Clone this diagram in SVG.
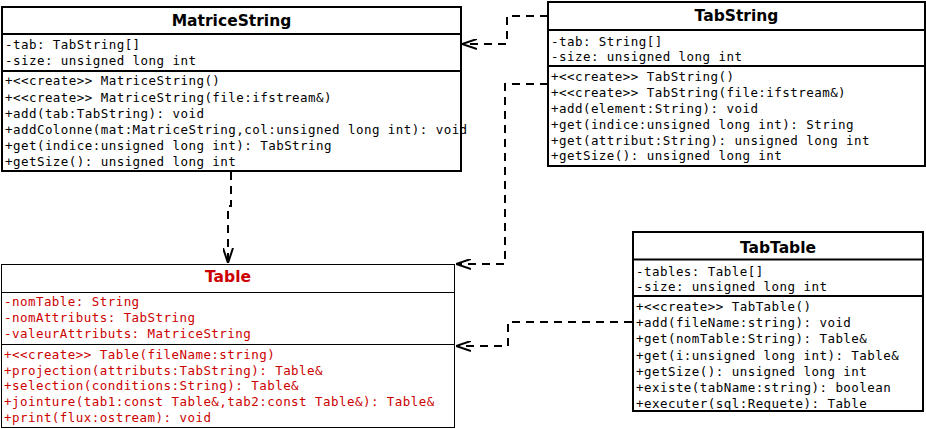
<svg xmlns="http://www.w3.org/2000/svg" width="926" height="429" viewBox="0 0 926 429">
  <style>
    .box { fill: #ffffff; stroke: #000000; stroke-width: 2; }
    .thin { fill: #ffffff; stroke: #000000; stroke-width: 1; }
    .div { stroke: #000000; stroke-width: 2; }
    .divthin { stroke: #000000; stroke-width: 1; }
    .title { font-family: "DejaVu Sans", sans-serif; font-weight: bold; font-size: 15.5px; text-anchor: middle; fill: #000000; }
    .mono { font-family: "DejaVu Sans Mono", monospace; font-size: 12.5px; letter-spacing: 0.45px; fill: #000000; }
    .red { fill: #cc0000; }
    .edge { fill: none; stroke: #000000; stroke-width: 2; stroke-dasharray: 8 6; }
  </style>
  <defs>
    <marker id="open" viewBox="0 0 15 11" refX="15" refY="5.5" markerWidth="15" markerHeight="11" markerUnits="userSpaceOnUse" orient="auto">
      <path d="M0,0.5 L15,5.5 L0,10.5" fill="none" stroke="#000000" stroke-width="2"/>
    </marker>
  </defs>

  <!-- dependency connectors -->
  <g id="connectors">
    <path class="edge" d="M548,16 H507 V44 H462" marker-end="url(#open)"/>
    <path class="edge" d="M548,84 H505 V264 H456" marker-end="url(#open)"/>
    <path class="edge" d="M231,172 V206 H228 V263" marker-end="url(#open)"/>
    <path class="edge" d="M632,322 H508 V346 H456" marker-end="url(#open)"/>
  </g>

  <!-- MatriceString -->
  <g id="MatriceString">
    <rect class="box" x="2" y="7" width="459" height="164"/>
    <line class="div" x1="2" y1="34" x2="461" y2="34"/>
    <line class="div" x1="2" y1="71" x2="461" y2="71"/>
    <text class="title" x="231.5" y="26">MatriceString</text>
    <text class="mono" x="5" y="48.5">-tab: TabString[]</text>
    <text class="mono" x="5" y="65">-size: unsigned long int</text>
    <text class="mono" x="5" y="84.8">+&lt;&lt;create&gt;&gt; MatriceString()</text>
    <text class="mono" x="5" y="101.5">+&lt;&lt;create&gt;&gt; MatriceString(file:ifstream&amp;)</text>
    <text class="mono" x="5" y="117.8">+add(tab:TabString): void</text>
    <text class="mono" x="5" y="134.2">+addColonne(mat:MatriceString,col:unsigned long int): void</text>
    <text class="mono" x="5" y="150.4">+get(indice:unsigned long int): TabString</text>
    <text class="mono" x="5" y="166.2">+getSize(): unsigned long int</text>
  </g>

  <!-- TabString -->
  <g id="TabString">
    <rect class="box" x="548" y="2" width="377" height="164"/>
    <line class="div" x1="548" y1="30" x2="925" y2="30"/>
    <line class="div" x1="548" y1="66" x2="925" y2="66"/>
    <text class="title" x="736.5" y="21">TabString</text>
    <text class="mono" x="551" y="45.5">-tab: String[]</text>
    <text class="mono" x="551" y="60.5">-size: unsigned long int</text>
    <text class="mono" x="551" y="80.5">+&lt;&lt;create&gt;&gt; TabString()</text>
    <text class="mono" x="551" y="96.5">+&lt;&lt;create&gt;&gt; TabString(file:ifstream&amp;)</text>
    <text class="mono" x="551" y="112.5">+add(element:String): void</text>
    <text class="mono" x="551" y="128.5">+get(indice:unsigned long int): String</text>
    <text class="mono" x="551" y="144.5">+get(attribut:String): unsigned long int</text>
    <text class="mono" x="551" y="160">+getSize(): unsigned long int</text>
  </g>

  <!-- Table -->
  <g id="Table">
    <rect class="thin" x="1.5" y="264.5" width="453" height="163"/>
    <line class="divthin" x1="1.5" y1="292.5" x2="454.5" y2="292.5"/>
    <line class="divthin" x1="1.5" y1="344.5" x2="454.5" y2="344.5"/>
    <text class="title red" x="228" y="282">Table</text>
    <text class="mono red" x="4" y="306">-nomTable: String</text>
    <text class="mono red" x="4" y="322">-nomAttributs: TabString</text>
    <text class="mono red" x="4" y="338">-valeurAttributs: MatriceString</text>
    <text class="mono red" x="4" y="358.5">+&lt;&lt;create&gt;&gt; Table(fileName:string)</text>
    <text class="mono red" x="4" y="374.5">+projection(attributs:TabString): Table&amp;</text>
    <text class="mono red" x="4" y="390.3">+selection(conditions:String): Table&amp;</text>
    <text class="mono red" x="4" y="406.2">+jointure(tab1:const Table&amp;,tab2:const Table&amp;): Table&amp;</text>
    <text class="mono red" x="4" y="422.2">+print(flux:ostream): void</text>
  </g>

  <!-- TabTable -->
  <g id="TabTable">
    <rect class="box" x="633" y="232" width="290" height="179"/>
    <line class="div" x1="633" y1="259.5" x2="923" y2="259.5"/>
    <line class="div" x1="633" y1="296" x2="923" y2="296"/>
    <text class="title" x="778" y="252.5">TabTable</text>
    <text class="mono" x="636" y="276">-tables: Table[]</text>
    <text class="mono" x="636" y="291">-size: unsigned long int</text>
    <text class="mono" x="636" y="310.5">+&lt;&lt;create&gt;&gt; TabTable()</text>
    <text class="mono" x="636" y="327">+add(fileName:string): void</text>
    <text class="mono" x="636" y="343">+get(nomTable:String): Table&amp;</text>
    <text class="mono" x="636" y="359.5">+get(i:unsigned long int): Table&amp;</text>
    <text class="mono" x="636" y="375.5">+getSize(): unsigned long int</text>
    <text class="mono" x="636" y="391.5">+existe(tabName:string): boolean</text>
    <text class="mono" x="636" y="407.5">+executer(sql:Requete): Table</text>
  </g>
</svg>
